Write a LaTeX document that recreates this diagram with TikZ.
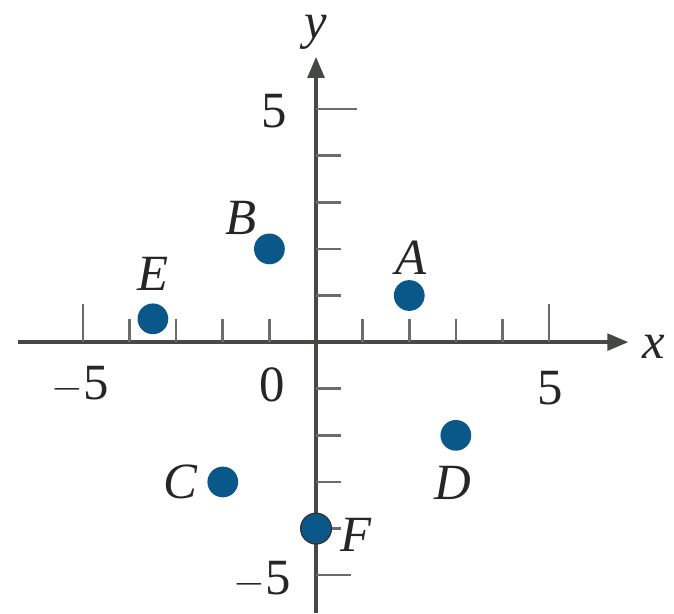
\documentclass[tikz,border=0pt]{standalone}
\usepackage{fontspec}
\setmainfont{Liberation Serif}
\usetikzlibrary{arrows.meta}
\definecolor{dotblue}{RGB}{10,88,138}
\definecolor{axisgray}{RGB}{70,72,70}
\begin{document}
\begin{tikzpicture}[x=1cm,y=1cm,
  axisline/.style={line width=2pt, draw=axisgray, -{Triangle[length=0.45cm,width=0.36cm]}},
  tickline/.style={line width=1.6pt, draw=axisgray!80},
  pt/.style={circle, fill=dotblue, inner sep=0pt, minimum size=0.66cm},
  lab/.style={font=\fontsize{31}{34}\selectfont\itshape, text=black!85, inner sep=0pt},
  num/.style={font=\fontsize{31}{34}\selectfont, text=black!85, inner sep=0pt}]
\useasboundingbox (-6.78,-5.82) rectangle (7.68,7.34);
% axes
\coordinate (xs) at (-6.4,0);
\coordinate (xe) at (6.7,0);
\coordinate (ys) at (0,-5.82);
\coordinate (ye) at (0,6.12);
\draw[axisline] (xs) -- (xe);
\draw[axisline] (ys) -- (ye);
% x ticks
\foreach \i in {-4,-3,-2,-1,1,2,3,4} \draw[tickline] (\i,0) -- (\i,0.5);
\draw[tickline] (-5,0) -- (-5,0.82);
\draw[tickline] (5,0) -- (5,0.82);
% y ticks
\foreach \i in {-4,-3,-2,-1,1,2,3,4} \draw[tickline] (0,\i) -- (0.53,\i);
\draw[tickline] (0,5) -- (0.88,5);
\draw[tickline] (0,-5) -- (0.74,-5);
% numbers
\node[num] (nxm) at (-5.06,-0.92) {$-$5};
\node[num] (n0) at (-0.94,-0.92) {0};
\node[num] (nx5) at (5.02,-0.99) {5};
\node[num] (ny5) at (-0.9,4.96) {5};
\node[num] (nym) at (-1.16,-5.1) {$-$5};
% axis labels
\node[lab] (xl) at (7.25,-0.11) {x};
\node[lab] (yl) at (0,6.64) {y};
% points
\node[pt] (A) at (2,1) {};
\node[pt] (B) at (-1,2) {};
\node[pt] (C) at (-2,-3) {};
\node[pt] (D) at (3,-2) {};
\node[pt] (E) at (-3.5,0.5) {};
\node[pt, draw=black!80, line width=0.8pt] (F) at (0,-4) {};
% point labels
\node[lab] (Al) at (2.04,1.82) {A};
\node[lab] (Bl) at (-1.61,2.66) {B};
\node[lab] (Cl) at (-2.9,-3.0) {C};
\node[lab] (Dl) at (2.94,-3.03) {D};
\node[lab] (El) at (-3.5,1.46) {E};
\node[lab] (Fl) at (0.86,-4.14) {F};
\end{tikzpicture}
\end{document}
